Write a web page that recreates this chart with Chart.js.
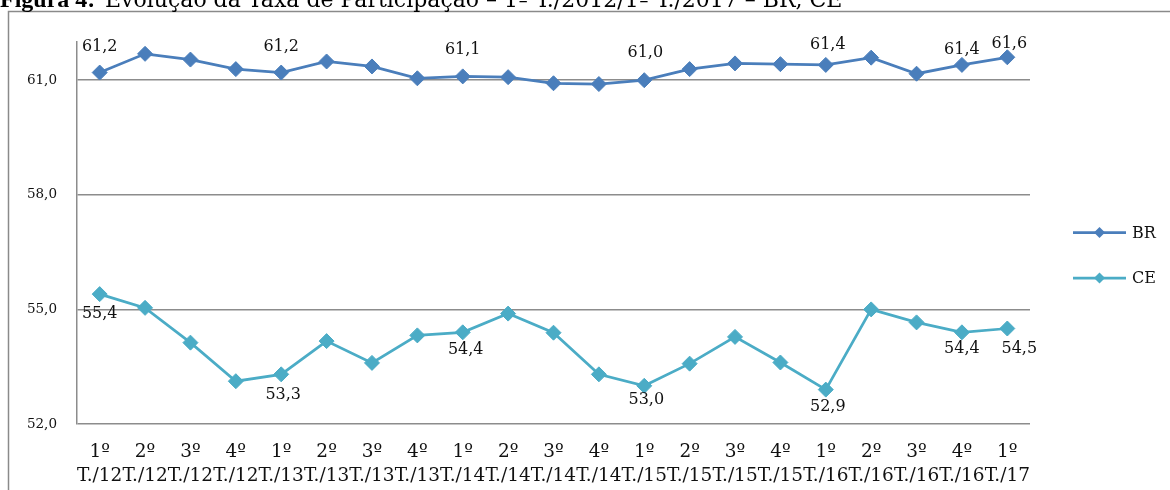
<!DOCTYPE html>
<html lang="pt-BR">
<head>
<meta charset="utf-8">
<title>Taxa de Participação – BR, CE</title>
<script src="https://cdn.jsdelivr.net/npm/chart.js@4/dist/chart.umd.min.js"></script>
<style>
  html, body { margin: 0; padding: 0; background: #ffffff; }
  #wrap { position: relative; width: 1170px; height: 490px; overflow: hidden; }
  canvas { display: block; }
</style>
</head>
<body>
<div id="wrap"><canvas id="chart" width="1170" height="490"></canvas></div>
<script>
// Trimestres (eixo horizontal)
const quarterLabels = ['1º','2º','3º','4º','1º','2º','3º','4º','1º','2º','3º','4º','1º','2º','3º','4º','1º','2º','3º','4º','1º'];
const yearLabels = ['T./12','T./12','T./12','T./12','T./13','T./13','T./13','T./13','T./14','T./14','T./14','T./14',
                    'T./15','T./15','T./15','T./15','T./16','T./16','T./16','T./16','T./17'];

// Taxa de participação (%)
const brValues = [61.2, 61.69, 61.54, 61.29, 61.2, 61.49, 61.36, 61.05, 61.1, 61.08, 60.92,
                  60.9, 61.0, 61.29, 61.44, 61.42, 61.4, 61.59, 61.17, 61.4, 61.6];
const ceValues = [55.4, 55.04, 54.13, 53.12, 53.3, 54.17, 53.6, 54.32, 54.4, 54.89, 54.39,
                  53.3, 53.0, 53.58, 54.28, 53.61, 52.9, 55.0, 54.66, 54.4, 54.5];

// Pontos com rótulo de valor
const brLabelIdx = [0, 4, 8, 12, 16, 19, 20];
const ceLabelIdx = [0, 4, 8, 12, 16, 19, 20];

// Marcas do eixo vertical
const yTickValues = [52, 55, 58, 61];

const SERIF = '"DejaVu Serif", "Liberation Serif", serif';
const BR_COLOR = '#4a7ebb';
const CE_COLOR = '#4bacc6';
const GRID = '#8c8c8c';

const fmt = v => v.toFixed(1).replace('.', ',');

// Moldura e título da figura
const framePlugin = {
  id: 'frame',
  beforeDraw(chart) {
    const ctx = chart.ctx;
    ctx.save();
    ctx.strokeStyle = '#8a8a8a';
    ctx.lineWidth = 1.5;
    ctx.beginPath();
    ctx.moveTo(8.5, 490);
    ctx.lineTo(8.5, 11.5);
    ctx.lineTo(1170, 11.5);
    ctx.stroke();

    ctx.fillStyle = '#000';
    ctx.textBaseline = 'alphabetic';
    ctx.textAlign = 'left';
    ctx.font = 'bold 24px "Liberation Serif", serif';
    ctx.fillText('Figura 4:', 0, 7);
    ctx.font = '22px ' + SERIF;
    ctx.fillText('Evolução da Taxa de Participação – 1º T./2012/1º T./2017 – BR, CE', 105, 7);
    ctx.restore();
  }
};

// Rótulos de valor junto aos pontos
const valueLabelPlugin = {
  id: 'valueLabels',
  afterDatasetsDraw(chart, args, opts) {
    const ctx = chart.ctx;
    ctx.save();
    ctx.font = '16px ' + SERIF;
    ctx.fillStyle = '#111';
    ctx.textAlign = 'center';
    ctx.textBaseline = 'middle';
    chart.data.datasets.forEach((ds, di) => {
      const meta = chart.getDatasetMeta(di);
      const offs = opts.offsets[di];
      ds.labelIdx.forEach(i => {
        const p = meta.data[i];
        const o = offs[i] || [0, 0];
        ctx.fillText(fmt(ds.data[i]), p.x + o[0], p.y + o[1]);
      });
    });
    ctx.restore();
  }
};

// Legenda à direita
const legendPlugin = {
  id: 'sideLegend',
  afterDraw(chart) {
    const ctx = chart.ctx;
    ctx.save();
    const rows = [232.5, 278];
    chart.data.datasets.forEach((ds, di) => {
      const y = rows[di];
      ctx.strokeStyle = ds.borderColor;
      ctx.lineWidth = 2.75;
      ctx.beginPath();
      ctx.moveTo(1073, y);
      ctx.lineTo(1126, y);
      ctx.stroke();
      ctx.fillStyle = ds.borderColor;
      ctx.beginPath();
      ctx.moveTo(1099.5, y - 5.5);
      ctx.lineTo(1105, y);
      ctx.lineTo(1099.5, y + 5.5);
      ctx.lineTo(1094, y);
      ctx.closePath();
      ctx.fill();
      ctx.fillStyle = '#111';
      ctx.font = '16px ' + SERIF;
      ctx.textAlign = 'left';
      ctx.textBaseline = 'middle';
      ctx.fillText(ds.label, 1132, y + 1);
    });
    ctx.restore();
  }
};

new Chart(document.getElementById('chart'), {
  type: 'line',
  data: {
    labels: quarterLabels.map((q, i) => [q, yearLabels[i]]),
    datasets: [
      {
        label: 'BR',
        data: brValues,
        labelIdx: brLabelIdx,
        borderColor: BR_COLOR,
        backgroundColor: BR_COLOR,
        borderWidth: 2.75,
        pointStyle: 'rectRot',
        pointRadius: 7.5,
        pointBorderWidth: 1,
        pointBackgroundColor: BR_COLOR,
        pointBorderColor: BR_COLOR,
        tension: 0
      },
      {
        label: 'CE',
        data: ceValues,
        labelIdx: ceLabelIdx,
        borderColor: CE_COLOR,
        backgroundColor: CE_COLOR,
        borderWidth: 2.75,
        pointStyle: 'rectRot',
        pointRadius: 7.5,
        pointBorderWidth: 1,
        pointBackgroundColor: CE_COLOR,
        pointBorderColor: CE_COLOR,
        tension: 0
      }
    ]
  },
  options: {
    responsive: false,
    animation: false,
    devicePixelRatio: 1,
    layout: { padding: { left: 0, right: 140, top: 42, bottom: 0 } },
    plugins: {
      legend: { display: false },
      tooltip: { enabled: false },
      valueLabels: {
        offsets: [
          { 0: [0, -26], 4: [0, -26], 8: [0, -27], 12: [1, -27], 16: [2, -20], 19: [0, -15], 20: [2, -13] },
          { 0: [0, 20], 4: [2, 21], 8: [3, 18], 12: [2, 14], 16: [2, 17], 19: [0, 17], 20: [12, 20] }
        ]
      }
    },
    scales: {
      x: {
        type: 'category',
        offset: true,
        grid: { display: false, drawTicks: false },
        border: { display: false },
        afterFit(scale) { scale.height = 66; },
        ticks: {
          autoSkip: false,
          maxRotation: 0,
          minRotation: 0,
          padding: 17,
          color: '#111',
          font: { family: SERIF, size: 18.5, lineHeight: 1.25 }
        }
      },
      y: {
        min: 52,
        max: 62,
        afterFit(scale) { scale.width = 77; },
        afterBuildTicks(scale) { scale.ticks = yTickValues.map(v => ({ value: v })); },
        grid: { color: GRID, lineWidth: 1.5, drawTicks: false },
        border: { display: true, color: GRID, width: 1.5 },
        ticks: {
          padding: 20,
          color: '#111',
          font: { family: SERIF, size: 13.5 },
          callback: v => fmt(v)
        }
      }
    }
  },
  plugins: [framePlugin, valueLabelPlugin, legendPlugin]
});
</script>
</body>
</html>
